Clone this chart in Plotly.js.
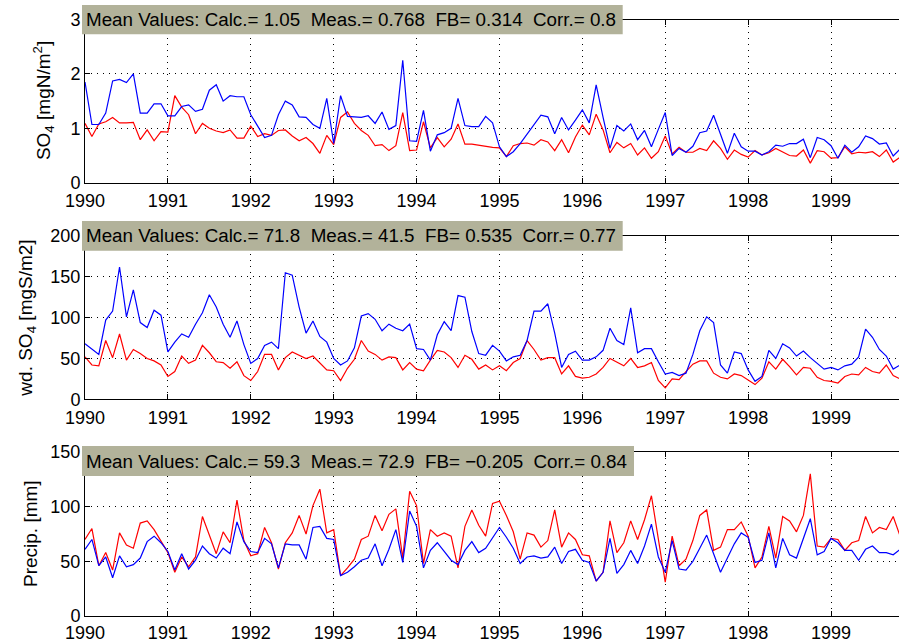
<!DOCTYPE html>
<html>
<head>
<meta charset="utf-8">
<script src="https://cdn.plot.ly/plotly-3.0.1.min.js"></script>
<style>html,body{margin:0;padding:0;background:#fff;overflow:hidden}#chart{width:899px;height:642px}</style>
</head>
<body>
<div id="chart"></div>
<script>
// ---- data (monthly, Jan 1990 .. Dec 1999) ----
const startYear = 1990;
const yearTicks = [1990,1991,1992,1993,1994,1995,1996,1997,1998,1999];
const yearTickLabels = ['1990','1991','1992','1993','1994','1995','1996','1997','1998','1999'];

const so4Calc = [
 1.85,1.07,1.07,1.28,1.87,1.9,1.84,2.0,1.28,1.28,1.45,1.45,
 1.23,1.23,1.4,1.43,1.31,1.35,1.7,1.8,1.5,1.6,1.58,1.58,
 1.25,1.03,0.83,0.87,1.25,1.5,1.43,1.21,1.2,1.07,1.0,1.55,
 0.72,1.6,1.22,1.21,1.2,1.23,1.09,1.3,0.98,1.05,2.25,0.77,
 0.76,1.33,0.58,0.88,0.92,1.0,1.55,1.05,1.03,1.03,1.22,1.1,
 0.66,0.48,0.57,0.72,0.9,1.07,1.24,1.21,0.9,1.2,0.97,1.15,
 1.34,1.1,1.8,1.2,0.63,1.05,0.95,1.08,0.79,0.96,0.66,0.98,
 1.29,0.5,0.63,0.56,0.67,0.92,0.95,1.24,0.88,0.54,0.91,0.66,
 0.58,0.58,0.51,0.57,0.69,0.67,0.72,0.72,0.8,0.46,0.83,0.79,
 0.68,0.45,0.69,0.56,0.66,0.86,0.81,0.71,0.73,0.49,0.62,0.6];
const so4Meas = [
 1.09,0.85,1.08,1.12,1.2,1.1,1.1,1.11,0.79,0.97,0.77,0.94,
 0.93,1.6,1.39,1.25,0.9,1.09,1.0,0.95,0.92,0.97,0.82,0.82,
 1.04,0.85,0.9,0.87,0.96,0.97,0.86,0.77,0.83,0.72,0.54,0.87,
 0.7,1.2,1.3,1.09,0.96,0.87,0.68,0.7,0.59,0.68,1.29,0.59,
 0.6,1.12,0.64,0.83,0.66,0.8,1.08,0.71,0.71,0.69,0.66,0.65,
 0.64,0.48,0.68,0.72,0.73,0.69,0.79,0.75,0.59,0.79,0.55,0.84,
 1.06,0.88,1.26,0.97,0.55,0.74,0.64,0.72,0.51,0.64,0.45,0.57,
 0.86,0.53,0.65,0.56,0.56,0.63,0.59,0.77,0.63,0.43,0.6,0.52,
 0.47,0.59,0.51,0.55,0.63,0.57,0.5,0.49,0.6,0.36,0.59,0.57,
 0.45,0.46,0.66,0.53,0.56,0.55,0.57,0.48,0.6,0.38,0.47,0.5];

const wdCalc = [
 68,62,55,97,108,162,101,134,94,88,109,103,
 58,70,80,76,92,106,128,113,92,76,96,67,
 44,50,66,70,62,155,152,113,81,96,77,70,
 50,42,47,63,102,105,98,84,92,87,84,92,
 62,61,48,79,95,84,127,125,83,56,54,66,
 59,47,52,54,72,108,108,117,81,39,55,59,
 48,48,52,60,87,72,67,112,57,62,62,46,
 31,33,29,32,55,84,101,94,42,32,58,56,
 36,22,28,60,50,68,63,53,59,51,44,37,
 39,36,41,43,52,86,76,61,53,37,42,45];
const wdMeas = [
 52,42,41,72,51,80,48,61,56,50,47,42,
 28,34,53,44,48,66,57,46,45,38,46,29,
 23,34,55,55,36,51,58,54,50,53,44,36,
 35,23,38,49,72,59,55,48,52,51,36,45,
 37,35,48,60,58,51,39,54,49,37,42,36,
 41,35,45,50,72,61,48,51,51,31,41,28,
 26,27,31,39,50,45,41,50,39,41,45,23,
 14,25,24,34,43,47,47,32,27,25,31,29,
 24,18,26,46,37,49,40,30,39,38,27,23,
 22,20,28,31,30,39,34,32,42,29,25,24];

const precCalc = [
 61,70,46,54,35,55,45,47,53,68,73,67,
 59,42,57,43,51,64,57,53,62,57,86,68,
 59,58,71,66,44,66,65,65,52,81,82,71,
 70,37,40,45,51,53,66,46,61,79,49,96,
 82,44,60,67,59,51,47,60,68,58,62,72,
 81,72,62,48,54,55,53,54,63,48,59,61,
 51,49,32,40,71,39,47,60,48,64,84,54,
 40,69,43,42,50,62,74,57,40,53,66,76,
 72,49,51,76,44,71,56,53,71,89,56,59,
 71,67,60,60,51,61,64,58,58,56,61,62];
const precMeas = [
 70,80,46,58,42,76,65,62,85,87,79,69,
 58,40,54,45,54,91,73,57,77,67,106,69,
 55,57,81,67,43,67,76,92,75,101,116,76,
 79,37,44,52,70,73,92,78,93,98,53,114,
 101,48,79,73,76,73,44,82,97,83,73,103,
 105,92,77,52,76,74,63,69,97,63,76,70,
 56,55,32,40,87,58,67,87,70,88,110,69,
 31,73,46,52,69,92,97,60,63,79,79,86,
 73,44,54,82,53,91,87,77,92,130,64,63,
 71,70,60,67,69,91,76,81,79,91,73,70];

const S2 = '\u00a0\u00a0';
const statText = [
 'Mean Values: Calc.= 1.05' + S2 + 'Meas.= 0.768' + S2 + 'FB= 0.314' + S2 + 'Corr.= 0.8',
 'Mean Values: Calc.= 71.8' + S2 + 'Meas.= 41.5' + S2 + 'FB= 0.535' + S2 + 'Corr.= 0.77',
 'Mean Values: Calc.= 59.3' + S2 + 'Meas.= 72.9' + S2 + 'FB= \u22120.205' + S2 + 'Corr.= 0.84'];
const yTitles = ['SO<sub>4</sub> [mgN/m<sup>2</sup>]', 'wd. SO<sub>4</sub> [mgS/m2]', 'Precip. [mm]'];
const yRanges = [[0,3],[0,200],[0,150]];
const yTickVals = [[0,1,2,3],[0,50,100,150,200],[0,50,100,150]];

// ---- geometry (pixels) ----
const L = 85, Wd = 814, T = 19, Ht = 597;
const px2x = p => (p - L) / Wd;
const py2y = p => (T + Ht - p) / Ht;
const panelPx = [[19.5,182.7],[236,399.3],[452,616]];
const boxPx = [[82,622.7,5,34.3],[82,622.7,221,250.7],[82,634,446,476]];
const titleXPx = [43,27,30];
const labelStandoff = [2,2,0];

const months = so4Calc.map((_, i) => startYear + i / 12);
const FONT = 'Liberation Sans, Arial, Helvetica, sans-serif';

const series = [[so4Calc, so4Meas],[wdCalc, wdMeas],[precCalc, precMeas]];
const traces = [];
series.forEach((pair, k) => {
  const sfx = k === 0 ? '' : String(k + 1);
  traces.push({x: months, y: pair[1], type:'scatter', mode:'lines', line:{color:'#ff0000', width:1.2}, xaxis:'x'+sfx, yaxis:'y'+sfx, hoverinfo:'skip'});
  traces.push({x: months, y: pair[0], type:'scatter', mode:'lines', line:{color:'#0000ff', width:1.2}, xaxis:'x'+sfx, yaxis:'y'+sfx, hoverinfo:'skip'});
});

const layout = {
  width: 899, height: 642,
  margin: {l: L, r: 0, t: T, b: 642 - T - Ht, pad: 0},
  paper_bgcolor: '#fff', plot_bgcolor: '#fff',
  showlegend: false,
  font: {family: FONT, size: 18, color: '#000'},
  shapes: [], annotations: []
};
for (let k = 0; k < 3; k++) {
  const sfx = k === 0 ? '' : String(k + 1);
  const dom = [py2y(panelPx[k][1]), py2y(panelPx[k][0])];
  layout['xaxis' + sfx] = {
    domain: [0, 1], anchor: 'y' + sfx, range: [1990, 1999.82],
    tickmode: 'array', tickvals: yearTicks, ticktext: yearTickLabels,
    ticks: 'inside', ticklen: 5, tickwidth: 1, tickcolor: '#000',
    showline: true, linecolor: '#000', linewidth: 1, mirror: 'ticks',
    showgrid: true, gridcolor: '#000', gridwidth: 1, griddash: '1px,5px',
    zeroline: false, ticklabelstandoff: labelStandoff[k],
    tickfont: {family: FONT, size: 18, color: '#000'}
  };
  layout['yaxis' + sfx] = {
    domain: dom, anchor: 'x' + sfx, range: yRanges[k],
    tickmode: 'array', tickvals: yTickVals[k],
    ticks: 'inside', ticklen: 5, tickwidth: 1, tickcolor: '#000',
    showline: true, linecolor: '#000', linewidth: 1, mirror: true,
    showgrid: true, gridcolor: '#000', gridwidth: 1, griddash: '1px,5px',
    zeroline: false, tickfont: {family: FONT, size: 18, color: '#000'}
  };
  const b = boxPx[k];
  layout.shapes.push({type:'rect', xref:'paper', yref:'paper', layer:'above',
    x0: px2x(b[0]), x1: px2x(b[1]), y0: py2y(b[3]), y1: py2y(b[2]),
    fillcolor: '#b2b29a', line: {width: 0}});
  layout.annotations.push({xref:'paper', yref:'paper', x: px2x(b[0] + 2), y: py2y((b[2] + b[3]) / 2),
    xanchor:'left', yanchor:'middle', showarrow:false, text: statText[k],
    font: {family: FONT, size: 18.8, color: '#000'}});
  layout.annotations.push({xref:'paper', yref:'paper', x: px2x(titleXPx[k]), y: py2y((panelPx[k][0] + panelPx[k][1]) / 2),
    xanchor:'center', yanchor:'middle', showarrow:false, textangle: -90, text: yTitles[k],
    font: {family: FONT, size: 19, color: '#000'}});
}

Plotly.newPlot('chart', traces, layout, {staticPlot: true, displayModeBar: false});
</script>
</body>
</html>
